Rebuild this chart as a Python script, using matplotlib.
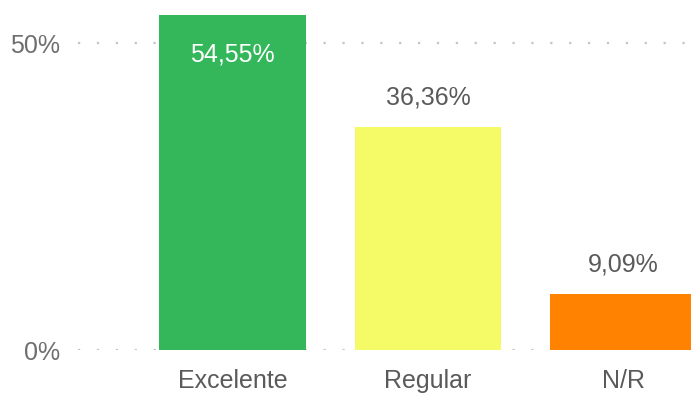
import matplotlib
matplotlib.use("Agg")
import matplotlib.pyplot as plt

# data
categories = ["Excelente", "Regular", "N/R"]
values     = [54.55, 36.36, 9.09]
labels     = ["54,55%", "36,36%", "9,09%"]
colors     = ["#33B75A", "#F5FB66", "#FF8300"]

plt.rcParams["font.family"] = ["Liberation Sans", "DejaVu Sans"]

fig = plt.figure(figsize=(6.91, 4.01), dpi=100)
ax = fig.add_axes([78 / 691, 51 / 401, 1 - 78 / 691, 350 / 401])

x = range(len(categories))
ax.bar(x, values, width=0.75, color=colors, zorder=2)

ax.set_xlim(-0.79, 2.345)
ax.set_ylim(0, 57.07)

# dotted gridlines
for yv in [0, 50]:
    ax.axhline(yv, color="#C4C4C4", linewidth=1.6, linestyle=(0, (1, 7.5)), zorder=1)

ax.set_yticks([0, 50])
ax.set_yticklabels(["0%", "50%"])
ax.set_xticks(list(x))
ax.set_xticklabels(categories)
ax.tick_params(axis="y", length=0, pad=13, labelsize=18, labelcolor="#6E6E6E")
ax.tick_params(axis="x", length=0, pad=14, labelsize=18, labelcolor="#5A5A5A")

for s in ax.spines.values():
    s.set_visible(False)

# data labels
for i, (v, lab) in enumerate(zip(values, labels)):
    if i == 0:
        ax.text(i, v - 6.3, lab, ha="center", va="center", fontsize=18, color="white")
    else:
        ax.text(i, v + 4.8, lab, ha="center", va="center", fontsize=18, color="#5A5A5A")

fig.savefig("out.png", dpi=100)
